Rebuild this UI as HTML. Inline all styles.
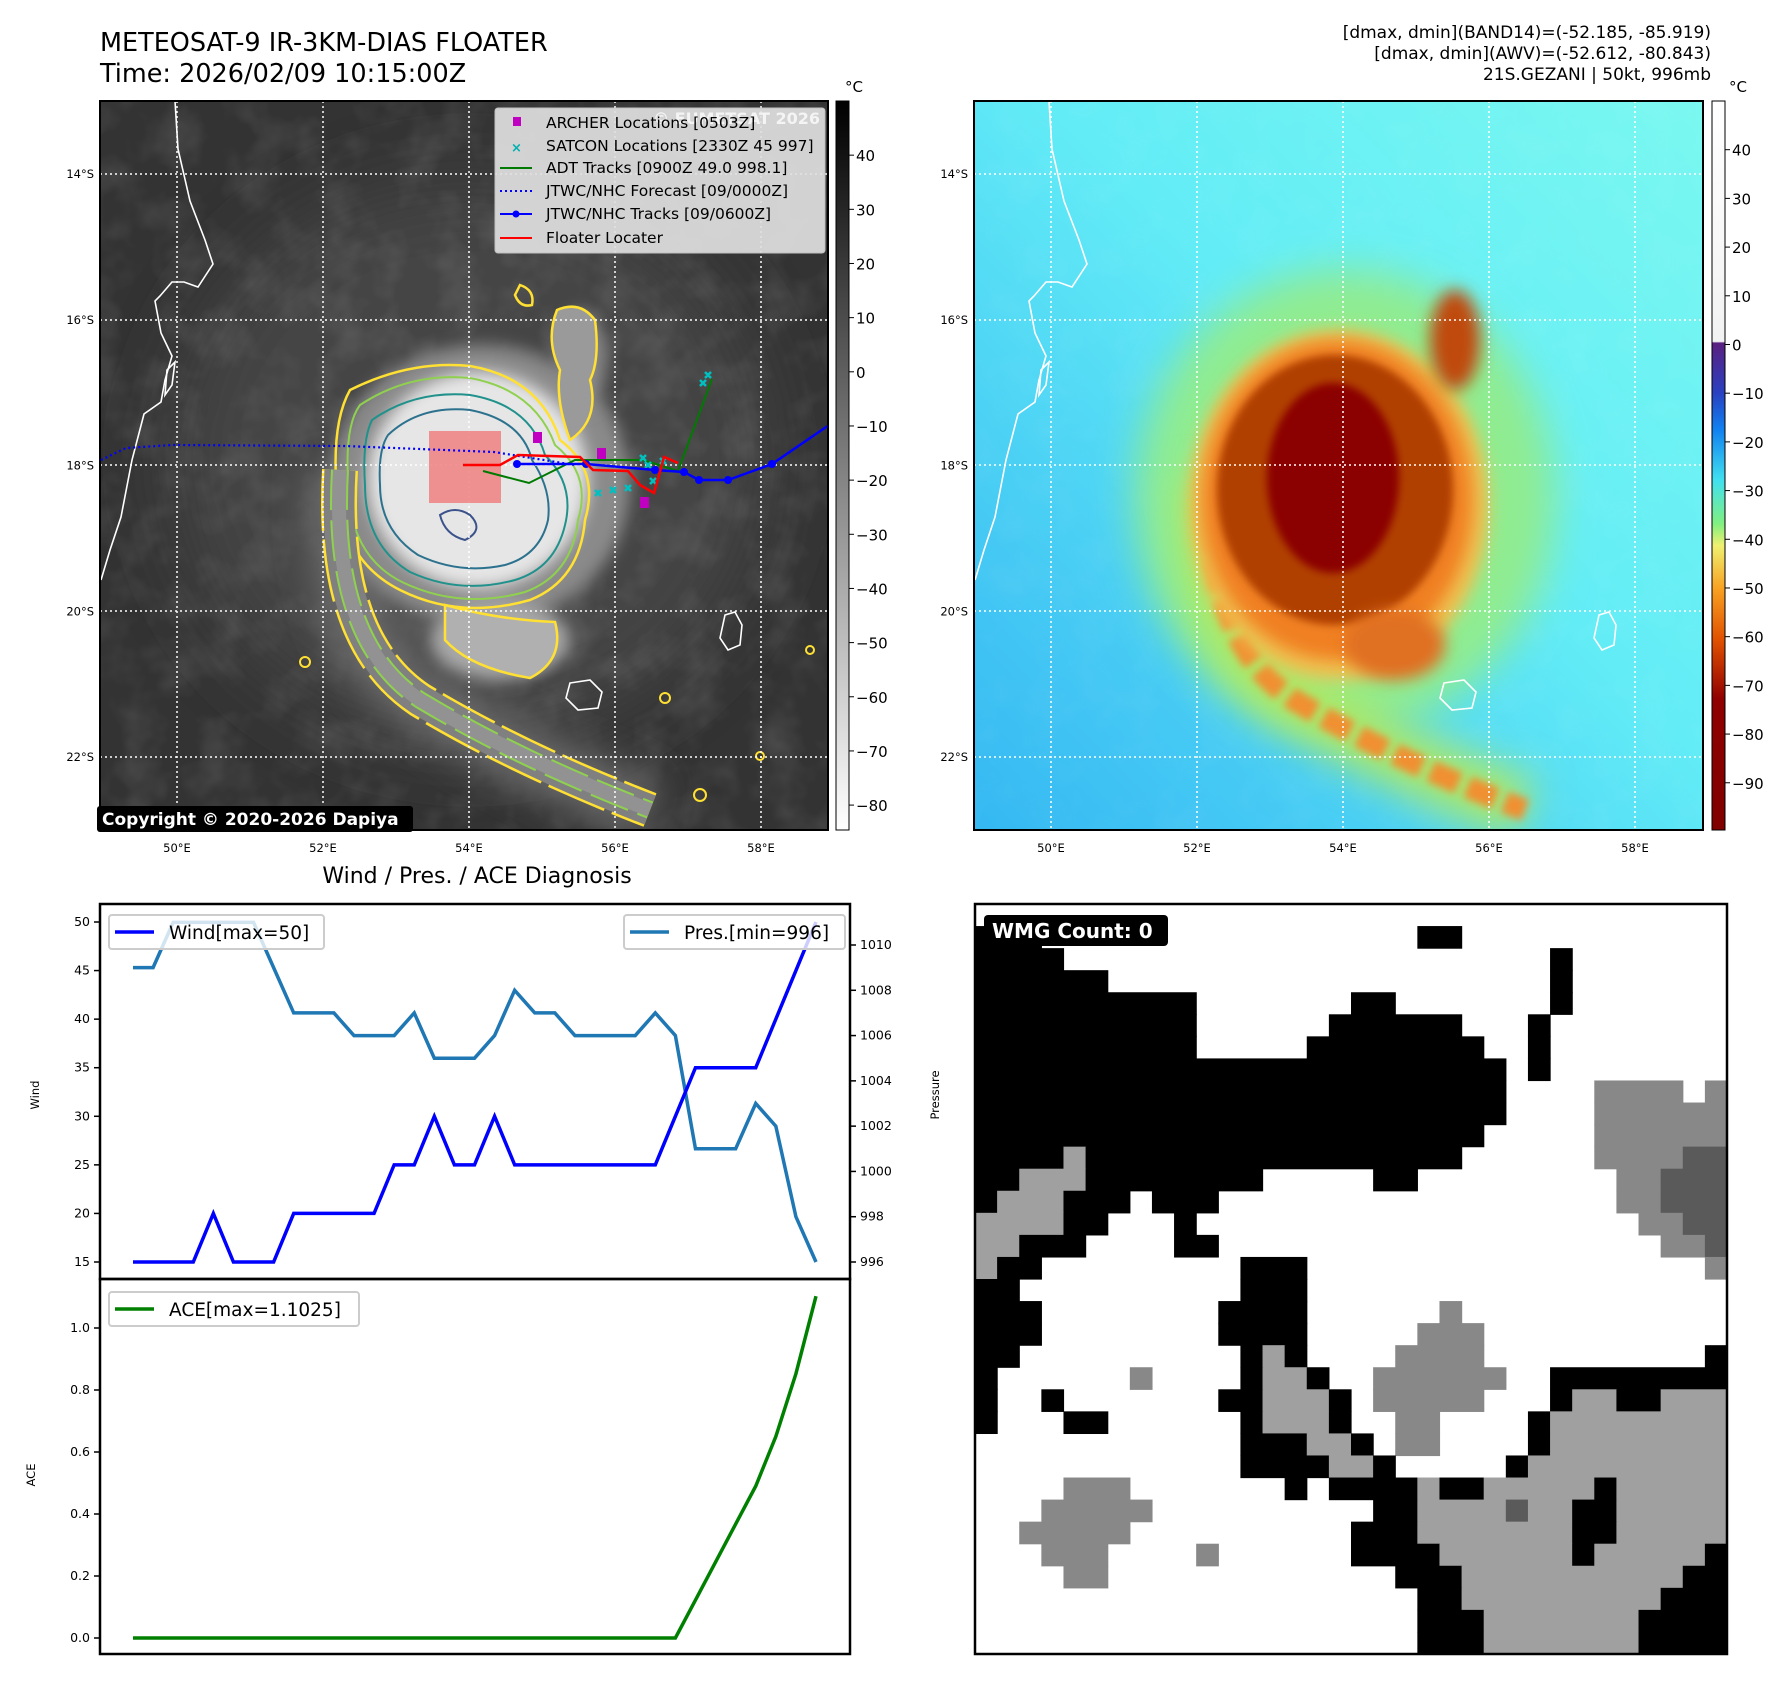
<!DOCTYPE html>
<html><head><meta charset="utf-8">
<style>
body{margin:0;background:#fff;}
#root{position:relative;width:1792px;height:1690px;overflow:hidden;background:#fff;font-family:"Liberation Sans","DejaVu Sans",sans-serif;}
svg text{font-family:"DejaVu Sans","Liberation Sans",sans-serif;}
</style></head>
<body>
<div id="root">
<svg id="fig" width="1792" height="1690" viewBox="0 0 1792 1690" xmlns="http://www.w3.org/2000/svg">
<defs>
<filter id="b4" x="-50%" y="-50%" width="200%" height="200%"><feGaussianBlur stdDeviation="4"/></filter>
<filter id="b8" x="-50%" y="-50%" width="200%" height="200%"><feGaussianBlur stdDeviation="8"/></filter>
<filter id="b20" x="-50%" y="-50%" width="200%" height="200%"><feGaussianBlur stdDeviation="20"/></filter>
<filter id="b40" x="-50%" y="-50%" width="200%" height="200%"><feGaussianBlur stdDeviation="40"/></filter>
<filter id="tex" x="0" y="0" width="100%" height="100%">
<feTurbulence type="fractalNoise" baseFrequency="0.025" numOctaves="3" seed="4"/>
<feColorMatrix type="matrix" values="0 0 0 0 1  0 0 0 0 1  0 0 0 0 1  0.6 0 0 0 -0.25"/>
</filter>
<clipPath id="clipL"><rect x="100" y="101" width="728" height="729"/></clipPath>
<clipPath id="clipR"><rect x="979" y="101" width="729" height="729"/></clipPath>
<linearGradient id="cbGray" x1="0" y1="0" x2="0" y2="1">
<stop offset="0" stop-color="#000"/><stop offset="1" stop-color="#fff"/></linearGradient>
<linearGradient id="cbColor" x1="0" y1="0" x2="0" y2="1">
<stop offset="0" stop-color="#ffffff"/><stop offset="0.33" stop-color="#f2f2f2"/>
<stop offset="0.332" stop-color="#5a2080"/><stop offset="0.40" stop-color="#2a40c0"/>
<stop offset="0.45" stop-color="#1080f0"/><stop offset="0.52" stop-color="#40e0f0"/>
<stop offset="0.58" stop-color="#80f080"/><stop offset="0.61" stop-color="#f0f070"/>
<stop offset="0.67" stop-color="#f8a020"/><stop offset="0.74" stop-color="#e05000"/>
<stop offset="0.82" stop-color="#900000"/><stop offset="1" stop-color="#800000"/></linearGradient>
<linearGradient id="bgR" x1="1" y1="0" x2="0" y2="1">
<stop offset="0" stop-color="#7af8f0"/><stop offset="0.45" stop-color="#62ecf6"/><stop offset="0.8" stop-color="#44c8f4"/><stop offset="1" stop-color="#35b8f2"/></linearGradient>
</defs>

<!-- Titles -->
<text x="100" y="51" font-size="25.5" fill="#000">METEOSAT-9 IR-3KM-DIAS FLOATER</text>
<text x="100" y="82" font-size="25.5" fill="#000">Time: 2026/02/09 10:15:00Z</text>
<text x="1711" y="38" font-size="17" text-anchor="end">[dmax, dmin](BAND14)=(-52.185, -85.919)</text>
<text x="1711" y="59" font-size="17" text-anchor="end">[dmax, dmin](AWV)=(-52.612, -80.843)</text>
<text x="1711" y="80" font-size="17" text-anchor="end">21S.GEZANI | 50kt, 996mb</text>

<!-- LEFT MAP -->
<g clip-path="url(#clipL)">
<rect x="100" y="101" width="728" height="729" fill="#333"/>
<ellipse cx="470" cy="460" rx="300" ry="280" fill="#454545" filter="url(#b40)"/>
<rect x="100" y="101" width="728" height="729" filter="url(#tex)" opacity="0.35"/>
<path d="M340,470 Q330,640 420,700 Q520,760 650,810" stroke="#6e6e6e" stroke-width="55" fill="none" filter="url(#b20)"/>
<ellipse cx="480" cy="485" rx="150" ry="140" fill="#8a8a8a" filter="url(#b8)"/>
<ellipse cx="500" cy="640" rx="70" ry="40" fill="#a8a8a8" filter="url(#b8)"/>
<ellipse cx="582" cy="360" rx="24" ry="50" fill="#8a8a8a" filter="url(#b8)"/>
<ellipse cx="478" cy="480" rx="110" ry="108" fill="#e6e6e6" filter="url(#b8)"/>
<!-- contours -->
<path d="M350,390 Q410,360 470,366 Q540,378 560,440 Q600,470 585,520 Q580,580 530,600 Q460,620 400,590 Q340,560 336,480 Q333,420 350,390Z" fill="none" stroke="#ffe033" stroke-width="2.5"/>
<path d="M360,405 Q410,372 470,378 Q535,390 555,445 Q592,475 578,520 Q572,575 525,592 Q460,610 402,582 Q348,555 348,480 Q345,425 360,405Z" fill="none" stroke="#8fd14f" stroke-width="2"/>
<path d="M372,420 Q415,390 470,395 Q530,405 545,455 Q575,485 565,525 Q555,568 515,580 Q460,595 410,572 Q365,545 365,485 Q362,440 372,420Z" fill="none" stroke="#21918c" stroke-width="2"/>
<path d="M388,435 Q420,405 470,410 Q522,420 532,460 Q552,490 548,520 Q540,555 505,565 Q460,575 418,555 Q380,530 380,485 Q378,450 388,435Z" fill="none" stroke="#2c728e" stroke-width="2"/>
<path d="M440,515 Q455,505 470,515 Q485,530 465,540 Q445,535 440,515Z" fill="none" stroke="#3b528b" stroke-width="2"/>
<path d="M340,470 Q330,640 420,700 Q520,760 650,810" stroke="#ffe033" stroke-width="36" fill="none" stroke-dasharray="60,8"/>
<path d="M340,470 Q330,640 420,700 Q520,760 650,810" stroke="#808080" stroke-width="31" fill="none"/>
<path d="M340,470 Q330,640 420,700 Q520,760 650,810" stroke="#8fd14f" stroke-width="18" fill="none" stroke-dasharray="40,10"/>
<path d="M340,470 Q330,640 420,700 Q520,760 650,810" stroke="#929292" stroke-width="14" fill="none"/>
<path d="M445,605 Q500,620 555,622 Q565,660 530,678 Q470,668 445,640Z" fill="#b0b0b0" stroke="#ffe033" stroke-width="2.5"/>
<path d="M557,310 Q580,300 595,320 Q600,360 590,380 Q600,420 570,440 Q555,400 560,370 Q545,340 557,310Z" fill="#9a9a9a" stroke="#ffe033" stroke-width="2.5"/>
<path d="M520,285 Q535,290 532,305 Q520,308 515,295Z" fill="none" stroke="#ffe033" stroke-width="2.5"/>
<g fill="none" stroke="#ffe033" stroke-width="2"><circle cx="305" cy="662" r="5"/><circle cx="700" cy="795" r="6"/><circle cx="760" cy="756" r="4"/><circle cx="810" cy="650" r="4"/><circle cx="665" cy="698" r="5"/></g>
<!-- grid -->
<g stroke="#fff" stroke-width="1.5" stroke-dasharray="2,3">
<line x1="177" y1="101" x2="177" y2="830"/><line x1="323" y1="101" x2="323" y2="830"/><line x1="469" y1="101" x2="469" y2="830"/><line x1="615" y1="101" x2="615" y2="830"/><line x1="761" y1="101" x2="761" y2="830"/>
<line x1="100" y1="174" x2="828" y2="174"/><line x1="100" y1="320" x2="828" y2="320"/><line x1="100" y1="465" x2="828" y2="465"/><line x1="100" y1="611" x2="828" y2="611"/><line x1="100" y1="757" x2="828" y2="757"/>
</g>
<g fill="none" stroke="#fff" stroke-width="1.6">
<path d="M175,101 L178,149 L184,175 L190,201 L205,240 L213,264 L198,287 L184,282 L172,282 L160,296 L155,301 L161,333 L172,356 L165,380 L161,402 L144,414 L132,460 L121,517 L110,550 L101,580"/>
<path d="M167,370 L175,362 L172,385 L165,395Z"/>
<path d="M725,615 L735,612 L742,625 L740,645 L728,650 L720,638Z"/>
<path d="M570,683 L590,680 L602,692 L598,708 L578,710 L566,698Z"/>
</g>
<rect x="429" y="431" width="72" height="72" fill="#f08080" opacity="0.85"/>
<polyline points="101,460 126,448 172,445 345,446 494,452 575,465" fill="none" stroke="#0000ff" stroke-width="2.2" stroke-dasharray="2,3"/>
<polyline points="483,471 529,483 575,460 643,460 678,471 712,379" fill="none" stroke="#007a00" stroke-width="2"/>
<g fill="none" stroke="#00c0c0" stroke-width="2.5">
<path d="M640,455 l6,6 m0,-6 l-6,6 M660,458 l6,6 m0,-6 l-6,6 M610,487 l6,6 m0,-6 l-6,6 M625,485 l6,6 m0,-6 l-6,6 M650,478 l6,6 m0,-6 l-6,6 M700,380 l6,6 m0,-6 l-6,6 M705,372 l6,6 m0,-6 l-6,6 M595,490 l6,6 m0,-6 l-6,6 M645,462 l6,6 m0,-6 l-6,6"/>
</g>
<polyline points="517,464 586,464 655,470 684,472 699,480 728,480 772,464 832,423" fill="none" stroke="#0000ff" stroke-width="2.5"/>
<g fill="#0000ff"><circle cx="517" cy="464" r="4"/><circle cx="586" cy="464" r="4"/><circle cx="655" cy="470" r="4"/><circle cx="684" cy="472" r="4"/><circle cx="699" cy="480" r="4"/><circle cx="728" cy="480" r="4"/><circle cx="772" cy="464" r="4"/></g>
<polyline points="463,465 500,465 518,455 580,457 593,470 628,471 640,485 654,493 664,457 678,463" fill="none" stroke="#ff0000" stroke-width="2.5"/>
<g fill="#c000c0"><rect x="533" y="432" width="9" height="11"/><rect x="597" y="448" width="9" height="11"/><rect x="640" y="497" width="9" height="11"/></g>
</g>
<rect x="100" y="101" width="728" height="729" fill="none" stroke="#000" stroke-width="2"/>

<g>
<rect x="495" y="108" width="330" height="145" rx="3" fill="#e0e0e0" opacity="0.92" stroke="#ccc"/>
<text x="820" y="124" font-size="16" text-anchor="end" fill="#f4f4f4" font-weight="bold">© EUMETSAT 2026</text>
<rect x="513" y="117" width="8" height="9" fill="#c000c0"/>
<text x="546" y="128" font-size="15.5">ARCHER Locations [0503Z]</text>
<text x="511" y="152" font-size="13" fill="#00b0b0" font-weight="bold">×</text>
<text x="546" y="151" font-size="15.5">SATCON Locations [2330Z 45 997]</text>
<line x1="500" y1="168" x2="532" y2="168" stroke="#007a00" stroke-width="2"/>
<text x="546" y="173" font-size="15.5">ADT Tracks [0900Z 49.0 998.1]</text>
<line x1="500" y1="191" x2="532" y2="191" stroke="#0000ff" stroke-width="2" stroke-dasharray="2,3"/>
<text x="546" y="196" font-size="15.5">JTWC/NHC Forecast [09/0000Z]</text>
<line x1="500" y1="214" x2="532" y2="214" stroke="#0000ff" stroke-width="2"/><circle cx="516" cy="214" r="3.5" fill="#0000ff"/>
<text x="546" y="219" font-size="15.5">JTWC/NHC Tracks [09/0600Z]</text>
<line x1="500" y1="238" x2="532" y2="238" stroke="#ff0000" stroke-width="2"/>
<text x="546" y="243" font-size="15.5">Floater Locater</text>
</g>
<rect x="97" y="806" width="316" height="26" rx="3" fill="#000"/>
<text x="102" y="825" font-size="17" font-weight="bold" fill="#fff">Copyright © 2020-2026 Dapiya</text>

<!-- RIGHT MAP -->
<g transform="translate(-5,0)">
<g clip-path="url(#clipR)">
<rect x="979" y="101" width="729" height="729" fill="url(#bgR)"/>
<rect x="979" y="101" width="729" height="729" filter="url(#tex)" opacity="0.15"/>
<ellipse cx="1350" cy="500" rx="210" ry="230" fill="#90ec90" filter="url(#b20)"/>
<path d="M1219,480 Q1209,640 1299,700 Q1399,760 1530,810" stroke="#b0e860" stroke-width="60" fill="none" filter="url(#b20)"/>
<path d="M1219,480 Q1209,640 1299,700 Q1399,760 1530,810" stroke="#f09030" stroke-width="22" fill="none" filter="url(#b4)" stroke-dasharray="30,10"/>
<ellipse cx="1344" cy="505" rx="150" ry="175" fill="#f0c050" filter="url(#b8)"/>
<ellipse cx="1342" cy="500" rx="135" ry="160" fill="#f08020" filter="url(#b8)"/>
<ellipse cx="1340" cy="490" rx="118" ry="135" fill="#b04000" filter="url(#b4)"/>
<ellipse cx="1338" cy="478" rx="66" ry="95" fill="#8b0000" filter="url(#b4)"/>
<ellipse cx="1400" cy="645" rx="50" ry="35" fill="#e07020" filter="url(#b8)"/>
<ellipse cx="1460" cy="340" rx="25" ry="50" fill="#c04810" filter="url(#b8)"/>
<g stroke="#fff" stroke-width="1.5" stroke-dasharray="2,3">
<line x1="1056" y1="101" x2="1056" y2="830"/><line x1="1202" y1="101" x2="1202" y2="830"/><line x1="1348" y1="101" x2="1348" y2="830"/><line x1="1494" y1="101" x2="1494" y2="830"/><line x1="1640" y1="101" x2="1640" y2="830"/>
<line x1="979" y1="174" x2="1708" y2="174"/><line x1="979" y1="320" x2="1708" y2="320"/><line x1="979" y1="465" x2="1708" y2="465"/><line x1="979" y1="611" x2="1708" y2="611"/><line x1="979" y1="757" x2="1708" y2="757"/>
</g>
<g fill="none" stroke="#fff" stroke-width="1.6" transform="translate(879,0)">
<path d="M175,101 L178,149 L184,175 L190,201 L205,240 L213,264 L198,287 L184,282 L172,282 L160,296 L155,301 L161,333 L172,356 L165,380 L161,402 L144,414 L132,460 L121,517 L110,550 L101,580"/>
<path d="M167,370 L175,362 L172,385 L165,395Z"/>
<path d="M725,615 L735,612 L742,625 L740,645 L728,650 L720,638Z"/>
<path d="M570,683 L590,680 L602,692 L598,708 L578,710 L566,698Z"/>
</g>
</g>
<rect x="979" y="101" width="729" height="729" fill="none" stroke="#000" stroke-width="2"/>
</g>

<rect x="836" y="101" width="13" height="729" fill="url(#cbGray)" stroke="#000" stroke-width="1"/>
<rect x="1712" y="101" width="13" height="729" fill="url(#cbColor)" stroke="#000" stroke-width="1"/>
<text x="854" y="92" font-size="15" text-anchor="middle">°C</text>
<text x="1738" y="92" font-size="15" text-anchor="middle">°C</text>
<g id="cbticks" font-size="15"></g>
<g id="mapticks" font-size="11.5"></g>

<text x="477" y="883" font-size="22" text-anchor="middle">Wind / Pres. / ACE Diagnosis</text>

<g id="wmg"></g>
<rect x="975" y="904" width="752" height="750" fill="none" stroke="#000" stroke-width="2.5"/>
<rect x="984" y="915" width="184" height="31" rx="4" fill="#000"/>
<text x="992" y="938" font-size="20" font-weight="bold" fill="#fff">WMG Count: 0</text>

<g id="chart"></g>
</svg>
</div>
<script>
const NS='http://www.w3.org/2000/svg';
const fig=document.getElementById('fig');
function mk(tag,attrs,parent,text){const e=document.createElementNS(NS,tag);for(const k in attrs)e.setAttribute(k,attrs[k]);if(text!==undefined)e.textContent=text;(parent||fig).appendChild(e);return e;}

const windValues=[15,15,15,15,20,15,15,15,20,20,20,20,20,25,25,30,25,25,30,25,25,25,25,25,25,25,25,30,35,35,35,35,40,45,50];
const presValues=[1009,1009,1011,1011,1011,1011,1011,1009,1007,1007,1007,1006,1006,1006,1007,1005,1005,1005,1006,1008,1007,1007,1006,1006,1006,1006,1007,1006,1001,1001,1001,1003,1002,998,996];
const aceValues=[0,0,0,0,0,0,0,0,0,0,0,0,0,0,0,0,0,0,0,0,0,0,0,0,0,0,0,0,0.1225,0.245,0.3675,0.49,0.65,0.8525,1.1025];
const windTicks=[15,20,25,30,35,40,45,50];
const presTicks=[996,998,1000,1002,1004,1006,1008,1010];
const aceTicks=[0.0,0.2,0.4,0.6,0.8,1.0];
const irCbTicks=[40,30,20,10,0,-10,-20,-30,-40,-50,-60,-70,-80];
const awvCbTicks=[40,30,20,10,0,-10,-20,-30,-40,-50,-60,-70,-80,-90];
const lonTicks=[50,52,54,56,58];
const latTicks=[14,16,18,20,22];

const X0=100,X1=850,TOP=904,MID=1279,BOT=1654;
const xIdx=i=>133+i*(816-133)/(windValues.length-1);
const yWind=v=>1262+(v-15)*(922-1262)/35;
const yPres=v=>1262+(v-996)*(945-1262)/14;
const yAce=v=>1638+v*(1328-1638);
const ch=document.getElementById('chart');

let fr=mk('rect',{x:X0,y:TOP,width:X1-X0,height:MID-TOP,fill:'none',stroke:'#000','stroke-width':2.5},ch);


fr=mk('rect',{x:X0,y:MID,width:X1-X0,height:BOT-MID,fill:'none',stroke:'#000','stroke-width':2.5},ch);



windTicks.forEach(t=>{const y=yWind(t);mk('line',{x1:X0-6,x2:X0,y1:y,y2:y,stroke:'#000','stroke-width':1.5},ch);
 const e=mk('text',{x:X0-10,y:y+4,'font-size':12.5,'text-anchor':'end'},ch,String(t));
 
 });
presTicks.forEach(t=>{const y=yPres(t);mk('line',{x1:X1,x2:X1+6,y1:y,y2:y,stroke:'#000','stroke-width':1.5},ch);
 const e=mk('text',{x:X1+10,y:y+4,'font-size':12.5},ch,String(t));
 
 });
aceTicks.forEach(t=>{const y=yAce(t);mk('line',{x1:X0-6,x2:X0,y1:y,y2:y,stroke:'#000','stroke-width':1.5},ch);
 const e=mk('text',{x:X0-10,y:y+4,'font-size':12.5,'text-anchor':'end'},ch,t.toFixed(1));
 
 });
let al=mk('text',{x:0,y:0,'font-size':11.5,'text-anchor':'middle',transform:'translate(39,1095) rotate(-90)'},ch,'Wind');


al=mk('text',{x:0,y:0,'font-size':11.5,'text-anchor':'middle',transform:'translate(939,1095) rotate(-90)'},ch,'Pressure');


al=mk('text',{x:0,y:0,'font-size':11.5,'text-anchor':'middle',transform:'translate(35,1475) rotate(-90)'},ch,'ACE');



let l=mk('polyline',{points:presValues.map((v,i)=>xIdx(i)+','+yPres(v)).join(' '),fill:'none',stroke:'#1f77b4','stroke-width':3.5},ch);


l=mk('polyline',{points:windValues.map((v,i)=>xIdx(i)+','+yWind(v)).join(' '),fill:'none',stroke:'#0000ff','stroke-width':3.5},ch);


l=mk('polyline',{points:aceValues.map((v,i)=>xIdx(i)+','+yAce(v)).join(' '),fill:'none',stroke:'#008000','stroke-width':3.5},ch);



function legend(x,y,w,color,label,name){
 const g=mk('g',{},ch);
 
 
 mk('rect',{x:x,y:y,width:w,height:34,rx:3,fill:'#fff','fill-opacity':0.8,stroke:'#ccc','stroke-width':2},g);
 mk('line',{x1:x+6,x2:x+45,y1:y+17,y2:y+17,stroke:color,'stroke-width':3.5},g);
 mk('text',{x:x+60,y:y+24,'font-size':18.5},g,label);
}
legend(109,915,215,'#0000ff','Wind[max=50]','wind-legend');
legend(624,915,221,'#1f77b4','Pres.[min=996]','pressure-legend');
legend(109,1292,250,'#008000','ACE[max=1.1025]','ace-legend');

const cbt=document.getElementById('cbticks');
irCbTicks.forEach(t=>{const y=101+(50-t)*(729/134.6);
 mk('line',{x1:849,x2:854,y1:y,y2:y,stroke:'#000'},cbt);
 const e=mk('text',{x:856,y:y+6},cbt,(t<0?'\u2212':'')+Math.abs(t));
 
 });
awvCbTicks.forEach(t=>{const y=101+(50-t)*(729/149.7);
 mk('line',{x1:1725,x2:1730,y1:y,y2:y,stroke:'#000'},cbt);
 const e=mk('text',{x:1732,y:y+6},cbt,(t<0?'\u2212':'')+Math.abs(t));
 
 });
const mt=document.getElementById('mapticks');
[100,974].forEach(ox=>{
 lonTicks.forEach(v=>{const x=ox+77+(v-50)*73;
  const e=mk('text',{x:x,y:852,'text-anchor':'middle'},mt,v+'°E');
  
  });
 latTicks.forEach(v=>{const y=174+(v-14)*72.9;
  const e=mk('text',{x:ox-6,y:y+4,'text-anchor':'end'},mt,v+'°S');
  
  });
});

const wmgRows=[
".34","#3 .17 #2 .12","#4 .22 #1 .7","#6 .20 #1 .7","#10 .7 #2 .7 #1 .7","#10 .6 #6 .3 #1 .8","#10 .5 #8 .2 #1 .8","#24 .1 #1 .8",
"#24 .4 m4 .1 m1","#24 .4 m6","#23 .5 m6","#4 g1 #17 .6 m4 d2","#2 g3 #8 .5 #2 .9 m2 d3","#1 g3 #3 .1 #3 .18 m2 d3","g4 #2 .3 #1 .20 m2 d2","g2 #3 .4 #2 .20 m2 d1",
"g1 #2 .9 #3 .18 m1","#2 .10 #3 .19","#3 .8 #4 .6 m1 .12","#3 .8 #4 .5 m3 .11","#2 .10 #1 g1 #1 .4 m4 .10 #1","#1 .6 m1 .4 #1 g2 #1 .2 m6 .2 #8",
"#1 .2 #1 .7 #2 g3 #1 .1 m5 .3 #1 g2 #2 g3","#1 .3 #2 .6 #1 g3 #1 .2 m2 .4 #1 g8",".12 #3 g2 #1 .1 m2 .4 #1 g8",".12 #4 g2 #1 .5 #1 g9",
".4 m3 .7 #1 .1 #4 g1 #2 g5 #1 g5",".3 m5 .10 #2 g4 d1 g2 #2 g5",".2 m5 .10 #3 g7 #2 g5",".3 m3 .4 m1 .6 #4 g6 #1 g5 #1",
".4 m2 .13 #3 g10 #2",".20 #2 g9 #3",".20 #3 g7 #4",".20 #3 g7 #4"];
const wmgColors={'#':'#000','.':'#fff','g':'#a0a0a0','m':'#888888','d':'#5a5a5a'};
const wg=document.getElementById('wmg');
const cw=752/34,chh=750/34;
wmgRows.forEach((row,r)=>{let c=0;row.split(' ').forEach(tok=>{const ch0=tok[0],n=parseInt(tok.slice(1));
 if(ch0!=='.'){const e=mk('rect',{x:975+c*cw,y:904+r*chh,width:n*cw+0.6,height:chh+0.6,fill:wmgColors[ch0]},wg);
  
  }
 c+=n;});});
</script>
</body></html>
